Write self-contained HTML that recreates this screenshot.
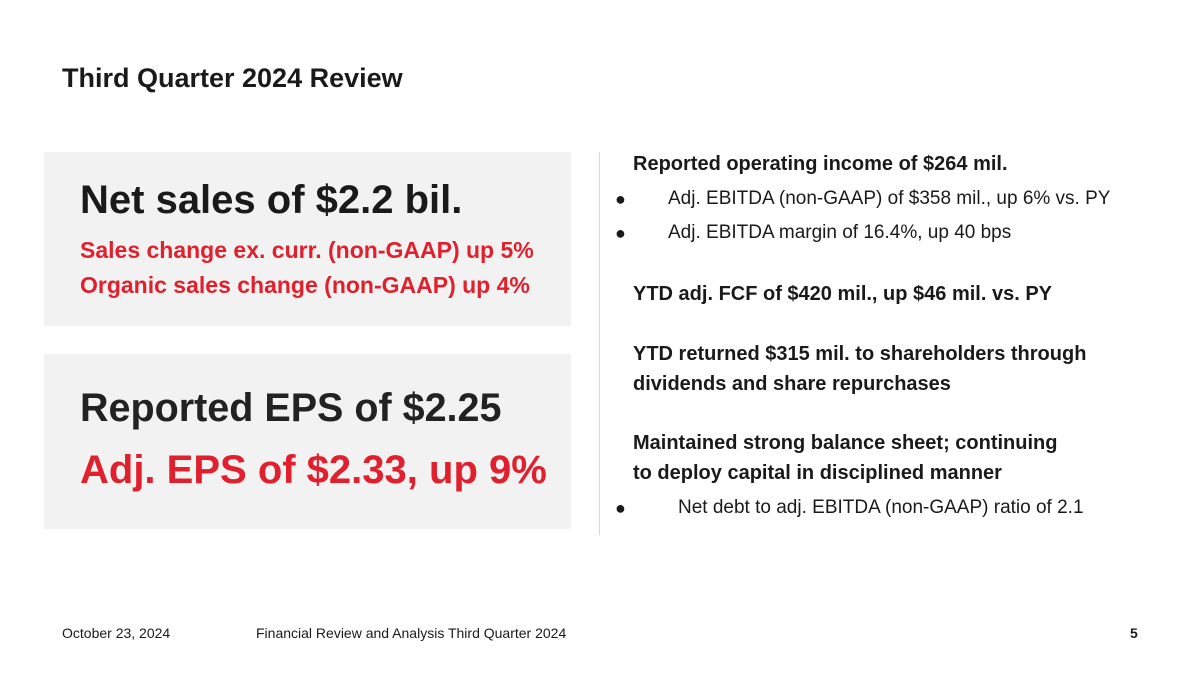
<!DOCTYPE html>
<html><head><meta charset="utf-8">
<style>
body{margin:0;width:1200px;height:675px;background:#fff;font-family:"Liberation Sans",sans-serif;color:#1a1a1a;position:relative;overflow:hidden}
.a{position:absolute;white-space:nowrap}
.box{position:absolute;left:44px;width:527px;background:#f2f2f2}
.r{color:#e0202d}
.t{font-size:20px;font-weight:bold;line-height:24px}
.n{font-size:19px;line-height:24px}
.dot{font-size:18px;line-height:24px}
.f{font-size:14px;line-height:18px}
</style></head><body>
<div class="a" style="left:62px;top:61px;font-size:27px;font-weight:bold;line-height:34px">Third Quarter 2024 Review</div>

<div class="box" style="top:152px;height:174px"></div>
<div class="a" style="left:80px;top:176px;font-size:40px;font-weight:bold;line-height:48px">Net sales of $2.2 bil.</div>
<div class="a r" style="left:80px;top:236px;font-size:23px;font-weight:bold;line-height:28px">Sales change ex. curr. (non-GAAP) up 5%</div>
<div class="a r" style="left:80px;top:271px;font-size:23px;font-weight:bold;line-height:28px">Organic sales change (non-GAAP) up 4%</div>

<div class="box" style="top:354px;height:175px"></div>
<div class="a" style="left:80px;top:384px;font-size:39.5px;font-weight:bold;line-height:48px;color:#222">Reported EPS of $2.25</div>
<div class="a r" style="left:80px;top:445px;font-size:40px;font-weight:bold;line-height:50px">Adj. EPS of $2.33, up 9%</div>

<div class="a" style="left:599px;top:152px;width:1px;height:383px;background:#d9d9d9"></div>

<div class="a t" style="left:633px;top:152px">Reported operating income of $264 mil.</div>
<div class="a dot" style="left:615px;top:187px">●</div>
<div class="a n" style="left:668px;top:187px">Adj. EBITDA (non-GAAP) of $358 mil., up 6% vs. PY</div>
<div class="a dot" style="left:615px;top:221px">●</div>
<div class="a n" style="left:668px;top:221px">Adj. EBITDA margin of 16.4%, up 40 bps</div>
<div class="a t" style="left:633px;top:282px">YTD adj. FCF of $420 mil., up $46 mil. vs. PY</div>
<div class="a t" style="left:633px;top:342px">YTD returned $315 mil. to shareholders through</div>
<div class="a t" style="left:633px;top:372px">dividends and share repurchases</div>
<div class="a t" style="left:633px;top:431px">Maintained strong balance sheet; continuing</div>
<div class="a t" style="left:633px;top:461px">to deploy capital in disciplined manner</div>
<div class="a dot" style="left:615px;top:496px">●</div>
<div class="a n" style="left:678px;top:496px">Net debt to adj. EBITDA (non-GAAP) ratio of 2.1</div>

<div class="a f" style="left:62px;top:624px">October 23, 2024</div>
<div class="a f" style="left:256px;top:624px">Financial Review and Analysis Third Quarter 2024</div>
<div class="a f" style="left:1130px;top:624px;font-weight:bold">5</div>
</body></html>
